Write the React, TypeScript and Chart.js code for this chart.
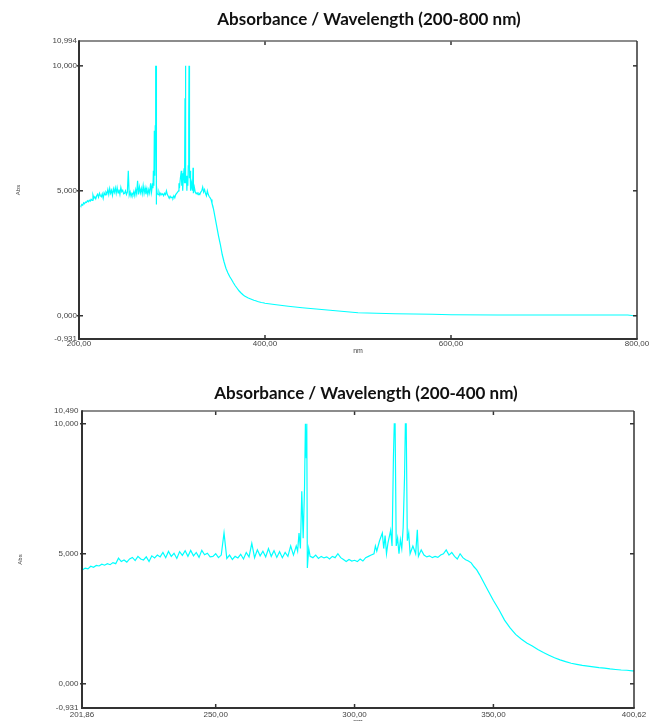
import React, { useEffect, useRef } from "react";
import { Chart, registerables } from "chart.js";

Chart.register(...registerables);

// Wavelength (nm) and absorbance
const wavelengthNm = [
  201.86, 202, 203, 204, 205, 206, 207, 208, 209, 210, 211, 212, 213, 214, 215, 216, 217, 218, 219,
  220, 221, 222, 223, 224, 225, 226, 227, 228, 229, 230, 231, 232, 233, 234, 235, 236, 237, 238, 239,
  240, 241, 242, 243, 244, 245, 246, 247, 248, 249, 250, 251, 252, 253, 254, 255, 256, 257, 258, 259,
  260, 261, 262, 263, 264, 265, 266, 267, 268, 269, 270, 271, 272, 273, 274, 275, 276, 277, 278,
  279, 279.5, 280, 280.5, 281, 281.5, 282, 282.3, 282.6, 282.8, 283, 283.5, 284,
  285, 286, 287, 288, 289, 290, 291, 292, 293, 294, 295, 296, 297, 298, 299, 300, 301, 302, 303, 304,
  305, 306, 307, 307.5, 308, 309, 310, 310.5, 311, 311.5, 312, 313, 313.5, 314, 314.3, 314.6, 315,
  315.5, 316, 316.5, 317, 317.5, 318, 318.3, 318.6, 319, 319.5, 320, 321, 322, 322.6, 323, 324,
  325, 326, 327, 328, 329, 330, 331, 332, 333, 334, 335, 336, 337, 338, 339, 340, 341, 342, 343, 344,
  345, 346, 348, 350, 352, 354, 356, 358, 360, 362, 364, 366, 368, 370, 372, 374, 376, 378, 380, 382,
  384, 386, 388, 390, 392, 394, 396, 398, 400, 400.62, 410, 425, 440, 455, 470, 485, 500, 520, 540,
  560, 580, 600, 650, 700, 750, 790, 797, 800,
];

const absorbance = [
  4.36, 4.38, 4.45, 4.42, 4.52, 4.48, 4.55, 4.53, 4.6, 4.56, 4.62, 4.58, 4.66, 4.62, 4.83, 4.7, 4.76, 4.68, 4.8,
  4.86, 4.74, 4.9, 4.8, 4.76, 4.88, 4.7, 4.92, 4.84, 4.95, 4.88, 5.05, 4.85, 5.09, 4.9, 5.02, 4.82, 5.08, 4.94, 5.12,
  4.9, 5.13, 4.92, 5.05, 4.86, 5.13, 4.96, 5.02, 4.88, 4.9, 5.0, 4.85, 4.95, 5.8, 4.82, 4.95, 4.78, 4.9, 4.84, 4.98,
  4.8, 5.05, 4.88, 5.4, 4.85, 5.15, 4.92, 5.1, 4.88, 5.2, 4.9, 5.12, 4.86, 5.08, 4.85, 5.05, 4.9, 5.3, 4.95,
  5.3, 5.1, 5.8, 5.2, 7.4, 5.6, 7.6, 10.0, 8.7, 10.0, 4.45, 5.2, 4.9,
  4.85, 4.95, 4.82, 4.9, 4.84, 4.88, 4.8, 4.9, 4.85, 5.0, 4.85, 4.78, 4.7, 4.78, 4.72, 4.75, 4.7, 4.8, 4.72, 4.85,
  4.9, 4.95, 5.0, 5.3, 5.1, 5.5, 5.8, 5.2, 5.7, 5.0, 5.4, 5.9, 5.3, 8.7, 10.0, 10.0, 5.3,
  5.6, 5.0, 5.54, 5.2, 6.0, 7.97, 10.0, 10.0, 5.5, 5.8, 5.0, 5.3, 5.0, 5.92, 4.9, 5.15,
  4.95, 4.88, 4.92, 4.85, 4.9, 4.86, 4.95, 5.0, 5.15, 4.95, 5.05, 4.9, 4.8, 5.0, 4.85, 4.77, 4.72, 4.65, 4.5, 4.38,
  4.2, 4.0, 3.6, 3.2, 2.85, 2.45, 2.15, 1.9, 1.72, 1.57, 1.45, 1.32, 1.2, 1.1, 1.0, 0.92, 0.85, 0.79, 0.75, 0.71,
  0.68, 0.65, 0.62, 0.6, 0.57, 0.55, 0.53, 0.52, 0.5, 0.5, 0.45, 0.38, 0.32, 0.27, 0.22, 0.17, 0.12, 0.1, 0.08,
  0.07, 0.06, 0.04, 0.03, 0.03, 0.03, 0.03, 0.0, 0.0,
];

const fullXTicks = [200, 400, 600, 800];
const fullYTicks = [-0.931, 0, 5, 10, 10.994];
const zoomXTicks = [201.86, 250, 300, 350, 400.62];
const zoomYTicks = [-0.931, 0, 5, 10, 10.49];

const titleFull = "Absorbance / Wavelength (200-800 nm)";
const titleZoom = "Absorbance / Wavelength (200-400 nm)";

const fmt = (v: number, d: number) => Number(v).toFixed(d).replace(".", ",");

const framePlugin = {
  id: "frame",
  afterDatasetsDraw(chart: any, _args: any, opts: any) {
    const { ctx, chartArea, scales } = chart;
    const { left, right, top, bottom } = chartArea;
    const line = (x1: number, y1: number, x2: number, y2: number) => {
      ctx.beginPath();
      ctx.moveTo(x1, y1);
      ctx.lineTo(x2, y2);
      ctx.stroke();
    };
    ctx.save();
    ctx.strokeStyle = "#333";
    ctx.lineWidth = 1.5;
    (opts.innerX || []).forEach((v: number) => {
      const px = scales.x.getPixelForValue(v);
      line(px, bottom, px, bottom - 4);
      line(px, top, px, top + 4);
    });
    (opts.innerY || []).forEach((v: number) => {
      const py = scales.y.getPixelForValue(v);
      line(left - 2, py, left + 4, py);
      line(right, py, right - 4, py);
    });
    ctx.strokeStyle = "#666";
    ctx.lineWidth = 1.5;
    line(left, top, right, top);
    ctx.strokeStyle = "#333";
    line(right, top, right, bottom);
    ctx.lineWidth = 2;
    line(left, top - 0.75, left, bottom + 1);
    line(left - 1, bottom, right + 0.75, bottom);
    ctx.restore();
  },
};

type Cfg = {
  xMin: number;
  xMax: number;
  xTicks: number[];
  yMin: number;
  yMax: number;
  yTicks: number[];
  yAxisWidth: number;
  xAxisHeight: number;
  padTop: number;
  padRight: number;
  xTickPad: number;
  xTitlePadBottom: number;
  yTitlePadTop: number;
  yTickPad: number;
};

function makeConfig(c: Cfg): any {
  const points = wavelengthNm.map((x, i) => ({ x, y: absorbance[i] }));
  const tickFont = { family: "'Liberation Sans', Arial, sans-serif", size: 8 };
  return {
    type: "line",
    data: {
      datasets: [
        {
          data: points,
          borderColor: "#00FFFF",
          borderWidth: 1.2,
          pointRadius: 0,
          tension: 0,
          fill: false,
        },
      ],
    },
    options: {
      animation: false,
      responsive: false,
      events: [],
      parsing: false,
      layout: { padding: { top: c.padTop, right: c.padRight, left: 0, bottom: 0 } },
      plugins: {
        legend: { display: false },
        tooltip: { enabled: false },
        title: { display: false },
        frame: {
          innerX: c.xTicks.slice(1, -1),
          innerY: c.yTicks.slice(1, -1),
        },
      },
      scales: {
        x: {
          type: "linear",
          min: c.xMin,
          max: c.xMax,
          afterBuildTicks: (s: any) => {
            s.ticks = c.xTicks.map((v) => ({ value: v }));
          },
          afterFit: (s: any) => {
            s.height = c.xAxisHeight;
          },
          ticks: {
            callback: (v: number) => fmt(v, 2),
            font: tickFont,
            color: "#444",
            padding: c.xTickPad,
            maxRotation: 0,
            minRotation: 0,
            autoSkip: false,
          },
          grid: { display: false, drawTicks: false, tickLength: 0 },
          border: { display: false },
          title: {
            display: true,
            text: "nm",
            font: { family: "'Liberation Sans', Arial, sans-serif", size: 7 },
            color: "#444",
            padding: { top: 0, bottom: c.xTitlePadBottom },
          },
        },
        y: {
          type: "linear",
          min: c.yMin,
          max: c.yMax,
          afterBuildTicks: (s: any) => {
            s.ticks = c.yTicks.map((v) => ({ value: v }));
          },
          afterFit: (s: any) => {
            s.width = c.yAxisWidth;
          },
          ticks: {
            callback: (v: number) => fmt(v, 3),
            font: tickFont,
            color: "#444",
            padding: c.yTickPad,
            autoSkip: false,
          },
          grid: { display: false, drawTicks: false, tickLength: 0 },
          border: { display: false },
          title: {
            display: true,
            text: "Abs",
            font: { family: "'Liberation Sans', Arial, sans-serif", size: 6 },
            color: "#444",
            padding: { top: c.yTitlePadTop, bottom: 0 },
          },
        },
      },
    },
    plugins: [framePlugin],
  };
}

function SpectrumChart(props: { cfg: Cfg; width: number; height: number }) {
  const ref = useRef<HTMLCanvasElement | null>(null);
  useEffect(() => {
    if (!ref.current) return;
    const chart = new Chart(ref.current, makeConfig(props.cfg));
    return () => chart.destroy();
  }, []);
  return (
    <canvas
      ref={ref}
      width={props.width}
      height={props.height}
      style={{ width: props.width, height: props.height, display: "block" }}
    />
  );
}

const titleStyle: React.CSSProperties = {
  position: "absolute",
  transform: "translateX(-50%)",
  whiteSpace: "nowrap",
  fontFamily: "Lato, 'Open Sans', sans-serif",
  fontWeight: 700,
  fontSize: 17,
  lineHeight: "20px",
  color: "#111",
};

export default function App() {
  const fullCfg: Cfg = {
    xMin: 200,
    xMax: 800,
    xTicks: fullXTicks,
    yMin: -0.931,
    yMax: 10.994,
    yTicks: fullYTicks,
    yAxisWidth: 79,
    xAxisHeight: 21,
    padTop: 41,
    padRight: 17,
    xTickPad: 0,
    xTitlePadBottom: 4.8,
    yTitlePadTop: 15,
    yTickPad: 2,
  };
  const zoomCfg: Cfg = {
    xMin: 201.86,
    xMax: 400.62,
    xTicks: zoomXTicks,
    yMin: -0.931,
    yMax: 10.49,
    yTicks: zoomYTicks,
    yAxisWidth: 82,
    xAxisHeight: 13,
    padTop: 51,
    padRight: 20,
    xTickPad: 2,
    xTitlePadBottom: -5,
    yTitlePadTop: 17,
    yTickPad: 3.5,
  };
  return (
    <div style={{ position: "absolute", left: 0, top: 0, width: 654, height: 721, overflow: "hidden", background: "#fff" }}>
      <div style={{ position: "absolute", left: 0, top: 0 }}>
        <SpectrumChart cfg={fullCfg} width={654} height={360} />
      </div>
      <div style={{ position: "absolute", left: 0, top: 360 }}>
        <SpectrumChart cfg={zoomCfg} width={654} height={361} />
      </div>
      <div style={{ ...titleStyle, left: 369, top: 9 }}>{titleFull}</div>
      <div style={{ ...titleStyle, left: 366, top: 383 }}>{titleZoom}</div>
    </div>
  );
}
